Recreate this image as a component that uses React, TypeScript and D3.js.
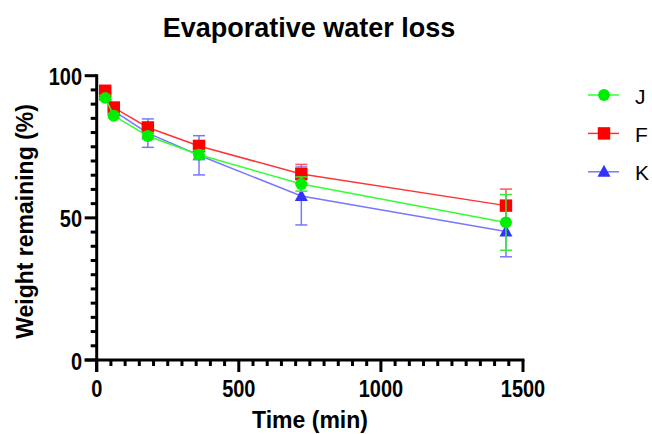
import React, { useEffect, useRef } from 'react';
import * as d3 from 'd3';

// time points (min)
const times = [30, 60, 180, 360, 720, 1440];

// mean weight remaining (%) per group
const seriesJ = [92.2, 85.9, 78.8, 72.2, 61.9, 48.4];
const seriesF = [94.7, 88.8, 81.8, 75.3, 65.4, 54.3];
const seriesK = [93.2, 87.6, 79.8, 72.0, 57.7, 45.2];

// SD per group
const errJ = [0.8, 0.8, 1.2, 1.5, 2.5, 9.8];
const errF = [0.8, 0.8, 1.2, 1.5, 3.4, 5.8];
const errK = [0.8, 1.2, 5.0, 6.9, 10.2, 8.9];

const groups = ['J', 'F', 'K'];
const xTicks = [0, 500, 1000, 1500];
const yTicks = [0, 50, 100];

const W = 652;
const H = 434;
const FONT = 'Arial, "Liberation Sans", sans-serif';

// triangle a bit taller than equilateral, centred on the point
const triPath = 'M0,-7L6.5,5L-6.5,5Z';

const App = () => {
  const svgRef = useRef<SVGSVGElement>(null);

  useEffect(() => {
    const svg = d3.select(svgRef.current);
    svg.selectAll('*').remove();

    const x = d3.scaleLinear().domain([0, 1500]).range([96.7, 523]);
    const y = d3.scaleLinear().domain([0, 100]).range([360, 75.7]);

    const styles: any = {
      J: { line: '#33ff33', fill: '#00ee00', err: '#33ee33', path: d3.symbol().type(d3.symbolCircle).size(110)() },
      F: { line: '#ff3333', fill: '#ff0000', err: '#ff5555', path: d3.symbol().type(d3.symbolSquare).size(155)() },
      K: { line: '#7777ff', fill: '#3333ff', err: '#7777ff', path: triPath },
    };
    const data: any = {
      J: { mean: seriesJ, sd: errJ },
      F: { mean: seriesF, sd: errF },
      K: { mean: seriesK, sd: errK },
    };

    // title
    svg.append('text')
      .attr('x', 309).attr('y', 36.5)
      .attr('text-anchor', 'middle')
      .attr('font-family', FONT).attr('font-weight', 'bold').attr('font-size', 27)
      .text('Evaporative water loss');

    // axes
    const axisG = svg.append('g').attr('stroke', '#000').attr('stroke-width', 3);
    axisG.append('line').attr('x1', x(0)).attr('x2', x(0)).attr('y1', y(100) - 1.5).attr('y2', y(0) + 12);
    axisG.append('line').attr('x1', x(0) - 12).attr('x2', x(1500) + 1.5).attr('y1', y(0)).attr('y2', y(0));

    d3.range(0, 101, 5).forEach((v) => {
      const major = v % 50 === 0;
      axisG.append('line')
        .attr('x1', x(0) - (major ? 12 : 6)).attr('x2', x(0))
        .attr('y1', y(v)).attr('y2', y(v));
    });
    d3.range(0, 1501, 50).forEach((v) => {
      const major = v % 500 === 0;
      axisG.append('line')
        .attr('x1', x(v)).attr('x2', x(v))
        .attr('y1', y(0)).attr('y2', y(0) + (major ? 12 : 6));
    });

    svg.selectAll('.ytick')
      .data(yTicks)
      .enter()
      .append('text')
      .attr('transform', (d) => `translate(82,${y(d) + 9.5}) scale(1,1.15)`)
      .attr('text-anchor', 'end')
      .attr('font-family', FONT).attr('font-weight', 'bold').attr('font-size', 20)
      .text((d) => d);

    svg.selectAll('.xtick')
      .data(xTicks)
      .enter()
      .append('text')
      .attr('transform', (d) => `translate(${x(d)},396.5) scale(1,1.15)`)
      .attr('text-anchor', 'middle')
      .attr('font-family', FONT).attr('font-weight', 'bold').attr('font-size', 20)
      .text((d) => d);

    svg.append('text')
      .attr('x', 310).attr('y', 428)
      .attr('text-anchor', 'middle')
      .attr('font-family', FONT).attr('font-weight', 'bold').attr('font-size', 23)
      .text('Time (min)');

    svg.append('text')
      .attr('transform', 'translate(33,221.5) rotate(-90)')
      .attr('text-anchor', 'middle')
      .attr('font-family', FONT).attr('font-weight', 'bold').attr('font-size', 23)
      .text('Weight remaining (%)');

    // series, drawn K, F, J so J sits on top
    const order = ['K', 'F', 'J'];
    const line = d3.line<number>()
      .x((d, i) => x(times[i]))
      .y((d) => y(d));

    order.forEach((g) => {
      const s = styles[g];
      const { mean, sd } = data[g];
      const layer = svg.append('g');

      layer.append('path')
        .attr('d', line(mean))
        .attr('fill', 'none')
        .attr('stroke', s.line)
        .attr('stroke-width', 1.5);

      mean.forEach((m: number, i: number) => {
        const cx = x(times[i]);
        const e = layer.append('g').attr('stroke', s.err).attr('stroke-width', 1.5);
        e.append('line').attr('x1', cx).attr('x2', cx).attr('y1', y(m + sd[i])).attr('y2', y(m - sd[i]));
        e.append('line').attr('x1', cx - 6).attr('x2', cx + 6).attr('y1', y(m + sd[i])).attr('y2', y(m + sd[i]));
        e.append('line').attr('x1', cx - 6).attr('x2', cx + 6).attr('y1', y(m - sd[i])).attr('y2', y(m - sd[i]));
      });

      layer.selectAll('.pt')
        .data(mean)
        .enter()
        .append('path')
        .attr('d', s.path)
        .attr('transform', (d: any, i) => `translate(${x(times[i])},${y(d)})`)
        .attr('fill', s.fill);
    });

    // legend
    groups.forEach((g, i) => {
      const s = styles[g];
      const ly = 95 + i * 38.4;
      const lg = svg.append('g');
      lg.append('line')
        .attr('x1', 588).attr('x2', 619).attr('y1', ly).attr('y2', ly)
        .attr('stroke', s.line).attr('stroke-width', 1.5);
      lg.append('path')
        .attr('d', s.path)
        .attr('transform', `translate(604,${ly})`)
        .attr('fill', s.fill);
      lg.append('text')
        .attr('x', 635).attr('y', ly + 8.5)
        .attr('font-family', FONT).attr('font-size', 21)
        .text(g);
    });
  }, []);

  return (
    <div style={{ position: 'absolute', left: 0, top: 0 }}>
      <svg ref={svgRef} width={W} height={H} style={{ display: 'block', background: '#fff' }} />
    </div>
  );
};

export default App;
